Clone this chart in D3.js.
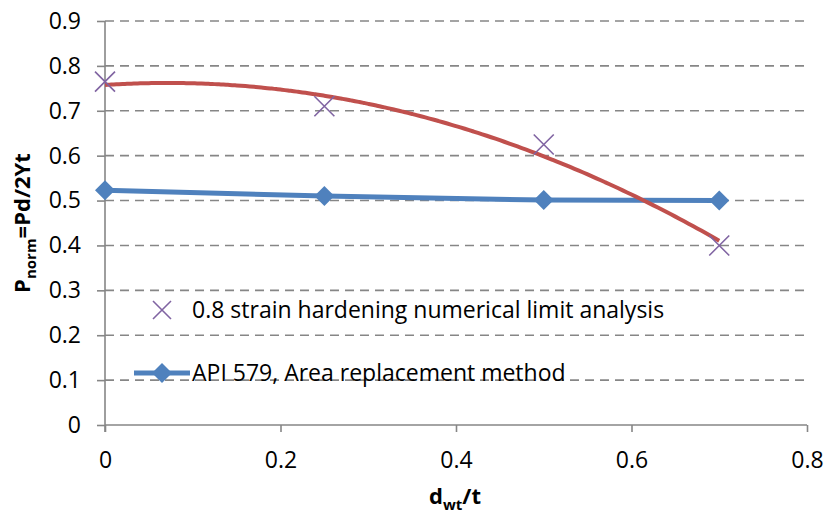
<!DOCTYPE html>
<html>
<head>
<meta charset="utf-8">
<script src="https://cdn.jsdelivr.net/npm/d3@7"></script>
<style>
  html, body { margin: 0; padding: 0; background: #fff; }
  svg { display: block; font-family: "Open Sans", Lato, sans-serif; }
</style>
</head>
<body>
<svg id="chart" width="827" height="517"></svg>
<script>
// Normalised limit pressure vs. relative wall thickness
const xTicks = [0, 0.2, 0.4, 0.6, 0.8];
const yTicks = [0, 0.1, 0.2, 0.3, 0.4, 0.5, 0.6, 0.7, 0.8, 0.9];

const dwt = [0, 0.25, 0.5, 0.7];
const limitAnalysis = [0.765, 0.71, 0.625, 0.40];   // 0.8 strain hardening numerical limit analysis
const api579 = [0.523, 0.510, 0.501, 0.500];         // API 579, area replacement method

const seriesLimit = dwt.map((x, i) => ({ x, y: limitAnalysis[i] }));
const seriesApi = dwt.map((x, i) => ({ x, y: api579[i] }));

// second-order polynomial trendline (least squares) through the limit-analysis points
function quadFit(pts) {
  let s = [0, 0, 0, 0, 0], t = [0, 0, 0];
  pts.forEach(p => {
    for (let k = 0; k < 5; k++) s[k] += Math.pow(p.x, k);
    for (let k = 0; k < 3; k++) t[k] += Math.pow(p.x, k) * p.y;
  });
  const M = [[s[0], s[1], s[2], t[0]], [s[1], s[2], s[3], t[1]], [s[2], s[3], s[4], t[2]]];
  for (let i = 0; i < 3; i++) {
    for (let j = i + 1; j < 3; j++) {
      const f = M[j][i] / M[i][i];
      for (let k = i; k < 4; k++) M[j][k] -= f * M[i][k];
    }
  }
  const c = [0, 0, 0];
  for (let i = 2; i >= 0; i--) {
    let v = M[i][3];
    for (let k = i + 1; k < 3; k++) v -= M[i][k] * c[k];
    c[i] = v / M[i][i];
  }
  return x => c[0] + c[1] * x + c[2] * x * x;
}
const trend = quadFit(seriesLimit);
const trendPts = d3.range(0, 0.7 + 1e-9, 0.005).map(x => ({ x, y: trend(x) }));

const svg = d3.select("#chart");
const plotLeft = 105, plotRight = 807, plotTop = 21, plotBottom = 425;

const x = d3.scaleLinear().domain([0, 0.8]).range([plotLeft, plotRight]);
const y = d3.scaleLinear().domain([0, 0.9]).range([plotBottom, plotTop]);

// horizontal dashed gridlines
svg.append("g").selectAll("line")
  .data(yTicks.filter(v => v > 0))
  .join("line")
  .attr("x1", plotLeft).attr("x2", plotRight)
  .attr("y1", d => y(d)).attr("y2", d => y(d))
  .attr("stroke", "#868686").attr("stroke-width", 1.6)
  .attr("stroke-dasharray", "9,6");

// axes
const fmt = d => d === 0 ? "0" : d3.format(".1f")(d);
const yAxis = svg.append("g")
  .attr("transform", `translate(${plotLeft},0)`)
  .call(d3.axisLeft(y).tickValues(yTicks).tickSize(8).tickPadding(16).tickFormat(fmt));
const xAxis = svg.append("g")
  .attr("transform", `translate(0,${plotBottom})`)
  .call(d3.axisBottom(x).tickValues(xTicks).tickSize(7).tickPadding(20).tickFormat(fmt));

[yAxis, xAxis].forEach(g => {
  g.select(".domain").attr("stroke", "#868686").attr("stroke-width", 1.6);
  g.selectAll(".tick line").attr("stroke", "#868686").attr("stroke-width", 1.6);
  g.selectAll(".tick text").attr("fill", "#000").style("font-size", "23px")
    .style("font-family", "'Open Sans', Lato, sans-serif");
});
yAxis.select(".domain").attr("d", `M0,${plotTop}V${plotBottom + 7}`);
xAxis.select(".domain").attr("d", `M${plotLeft},0H${plotRight}`);

// API 579 line with diamonds
const line = d3.line().x(d => x(d.x)).y(d => y(d.y));
svg.append("path").datum(seriesApi)
  .attr("d", line).attr("fill", "none")
  .attr("stroke", "#4F81BD").attr("stroke-width", 5);
const diamondShape = d3.symbol().type(d3.symbolSquare).size(200);
svg.append("g").selectAll("path")
  .data(seriesApi).join("path")
  .attr("transform", d => `translate(${x(d.x)},${y(d.y)}) rotate(45)`)
  .attr("d", diamondShape)
  .attr("fill", "#4F81BD");

// trendline
svg.append("path").datum(trendPts)
  .attr("d", d3.line().x(d => x(d.x)).y(d => y(d.y)).curve(d3.curveMonotoneX))
  .attr("fill", "none").attr("stroke", "#C0504D").attr("stroke-width", 4);

// limit-analysis markers (x)
const cross = 10;
const crossPath = `M${-cross},${-cross}L${cross},${cross}M${-cross},${cross}L${cross},${-cross}`;
svg.append("g").selectAll("path")
  .data(seriesLimit).join("path")
  .attr("transform", d => `translate(${x(d.x)},${y(d.y)})`)
  .attr("d", crossPath)
  .attr("stroke", "#8064A2").attr("stroke-width", 1.6).attr("fill", "none");

// legend
const lg = svg.append("g").style("font-size", "23px");
lg.append("path")
  .attr("transform", "translate(162,310)")
  .attr("d", `M-9,-9L9,9M-9,9L9,-9`)
  .attr("stroke", "#8064A2").attr("stroke-width", 1.6);
lg.append("text").attr("x", 192).attr("y", 310).attr("dy", "0.35em")
  .text("0.8 strain hardening numerical limit analysis");
lg.append("line").attr("x1", 134).attr("x2", 190).attr("y1", 373).attr("y2", 373)
  .attr("stroke", "#4F81BD").attr("stroke-width", 5);
lg.append("path").attr("transform", "translate(162,373) rotate(45)")
  .attr("d", diamondShape).attr("fill", "#4F81BD");
lg.append("text").attr("x", 192).attr("y", 373).attr("dy", "0.35em")
  .text("API 579, Area replacement method");

// axis titles
const xt = svg.append("text").attr("x", 455).attr("y", 504)
  .attr("text-anchor", "middle").style("font-size", "22px").style("font-weight", "bold");
xt.append("tspan").text("d");
xt.append("tspan").attr("dy", 6).style("font-size", "15px").text("wt");
xt.append("tspan").attr("dy", -6).text("/t");

const yt = svg.append("text").attr("transform", "translate(30,223) rotate(-90)")
  .attr("text-anchor", "middle").style("font-size", "22px").style("font-weight", "bold");
yt.append("tspan").text("P");
yt.append("tspan").attr("dy", 6).style("font-size", "15px").text("norm");
yt.append("tspan").attr("dy", -6).text("=Pd/2Yt");
</script>
</body>
</html>
